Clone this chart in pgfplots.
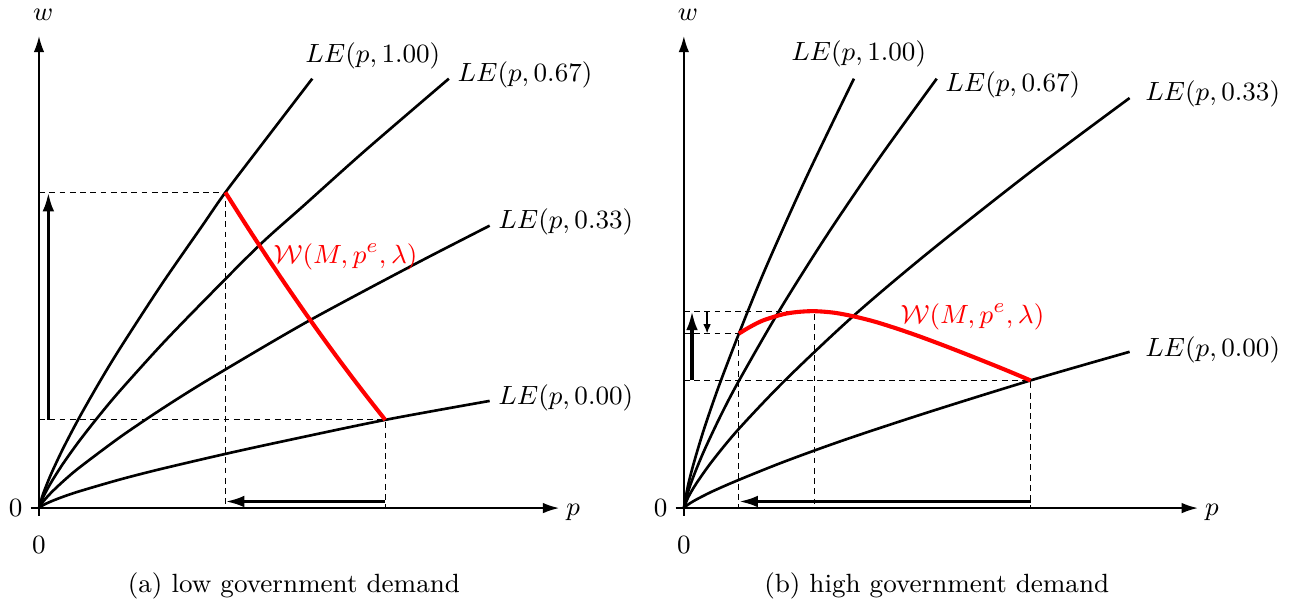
\documentclass[border=0pt]{standalone}
\usepackage{pgfplots}
\pgfplotsset{compat=1.18}
\usetikzlibrary{arrows.meta}
\begin{document}
\begin{tikzpicture}
\useasboundingbox (0pt,0pt) rectangle (441.3pt,-206.8pt);
\tikzset{lab/.style={anchor=west, inner sep=0pt, font=\fontsize{9.3}{11}\selectfont}}
\pgfplotsset{
  myaxis/.style={
    x=0.13919pt, y=0.13204pt,
    axis lines=middle,
    xmin=-20, ymin=-20, ymax=1220,
    xtick=\empty, ytick=\empty,
    axis line style={line width=0.5pt, -{Latex[length=5.5pt,width=3.6pt]}},
    clip=false,
    anchor=origin,
  },
  le/.style={black, line width=0.9pt, no markers, smooth},
  wc/.style={red, line width=1.4pt, no markers, smooth},
  dsh/.style={black, line width=0.35pt, dash pattern=on 2pt off 1.5pt, no markers},
  arr/.style={black, line width=1.1pt, no markers, -{Latex[length=6.5pt,width=4pt]}},
  sarr/.style={black, line width=0.6pt, no markers, -{Latex[length=3.2pt,width=2.6pt]}},
}
% ---------------- panel (a)
\begin{axis}[myaxis, at={(13.31pt,-173.4pt)}, xmax=1275]
\addplot[dsh] coordinates {(0,816) (457,816) (457,0)};
\addplot[dsh] coordinates {(0,228) (849,228) (849,0)};
\addplot[le] coordinates {(0,0) (10,36.3) (30,88.8) (60,156.0) (100,236.3) (150,328.6) (200,415.1) (300,577.2) (400,729.3) (457,816) (550,944.8) (670,1110)};
\addplot[le] coordinates {(0,0) (10,27.8) (30,66.8) (60,116.4) (100,175.2) (150,242.3) (200,305.0) (300,421.8) (400,531.0) (540,679) (650,782.8) (800,924.4) (1005,1110)};
\addplot[le] coordinates {(0,0) (10,16.5) (30,40.0) (60,69.9) (100,105.5) (200,184.3) (300,255.5) (400,322.1) (550,416.2) (665,486) (800,562.8) (950,646.2) (1105,730)};
\addplot[le] coordinates {(0,0) (10,7.5) (30,17.4) (60,29.6) (100,43.7) (200,74.3) (300,101.3) (457,140) (600,173) (849,228) (1105,277)};
\addplot[wc] coordinates {(457,816) (506,734.7) (555,655.6) (604,578.7) (653,504.1) (702,431.7) (751,361.6) (800,293.7) (849,228)};
\addplot[arr] coordinates {(23,228) (23,816)};
\addplot[arr] coordinates {(849,17) (457,17)};
\node[lab] at (652,1170) {$LE(p,1.00)$};
\node[lab] at (1025,1120) {$LE(p,0.67)$};
\node[lab] at (1125,740) {$LE(p,0.33)$};
\node[lab] at (1125,285) {$LE(p,0.00)$};
\node[lab, text=red] at (574,650) {$\mathcal{W}(M,p^e,\lambda)$};
\node[font=\fontsize{9.3}{11}\selectfont] at (10,1276) {$w$};
\node[font=\fontsize{9.3}{11}\selectfont] at (1310,-10) {$p$};
\node[font=\fontsize{9.3}{11}\selectfont] at (-57,0) {$0$};
\node[font=\fontsize{9.3}{11}\selectfont] at (0,-95) {$0$};
\node[font=\small] at (625,-200) {(a) low government demand};
\end{axis}
% ---------------- panel (b)
\begin{axis}[myaxis, at={(233.4pt,-173.4pt)}, xmax=1260]
\addplot[dsh] coordinates {(0,509) (320,509) (320,0)};
\addplot[dsh] coordinates {(0,451) (135,451) (135,0)};
\addplot[dsh] coordinates {(0,330) (850,330) (850,0)};
\addplot[le] coordinates {(0,0) (10,57.4) (25,118.8) (50,206.0) (85,313) (135,451) (200,619.1) (300,854.2) (417,1110)};
\addplot[le] coordinates {(0,0) (10,41.3) (25,85.7) (50,149.1) (90,238.3) (135,329) (235,512) (350,704.3) (480,906.0) (620,1110)};
\addplot[le] coordinates {(0,0) (10,26.5) (30,62.7) (70,122.1) (135,205) (250,332.2) (415,496) (600,660.9) (850,869.0) (1093,1060)};
\addplot[le] coordinates {(0,0) (10,8.9) (30,21.7) (70,43.1) (135,73) (250,121.5) (400,178.5) (600,248) (850,330) (1093,404)};
\addplot[wc] coordinates {(135,451) (160,467) (194,485) (243,501) (280,507) (320,509) (370,504.8) (423,494) (470,481.3) (521,464.4) (570,446.7) (620,427.3) (670,407.1) (726,383.8) (790,356.6) (850,330)};
\addplot[arr] coordinates {(20,330) (20,509)};
\addplot[sarr] coordinates {(57,509) (57,451)};
\addplot[arr] coordinates {(850,17) (135,17)};
\node[lab] at (262,1175) {$LE(p,1.00)$};
\node[lab] at (640,1095) {$LE(p,0.67)$};
\node[lab] at (1130,1070) {$LE(p,0.33)$};
\node[lab] at (1130,410) {$LE(p,0.00)$};
\node[lab, text=red] at (530,494) {$\mathcal{W}(M,p^e,\lambda)$};
\node[font=\fontsize{9.3}{11}\selectfont] at (10,1276) {$w$};
\node[font=\fontsize{9.3}{11}\selectfont] at (1295,-10) {$p$};
\node[font=\fontsize{9.3}{11}\selectfont] at (-57,0) {$0$};
\node[font=\fontsize{9.3}{11}\selectfont] at (0,-95) {$0$};
\node[font=\small] at (620,-200) {(b) high government demand};
\end{axis}
\end{tikzpicture}
\end{document}
